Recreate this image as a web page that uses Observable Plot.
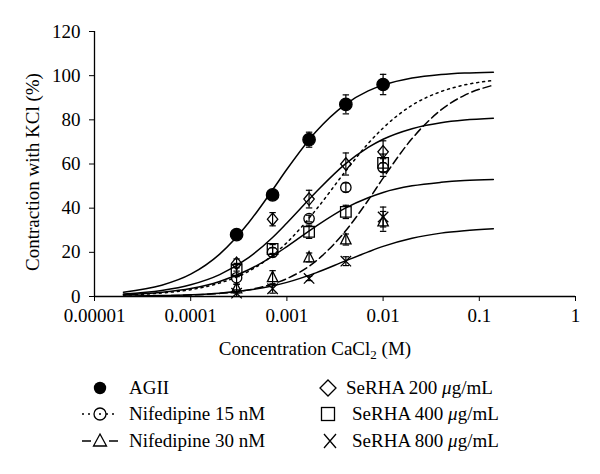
<!DOCTYPE html>
<html><head><meta charset="utf-8">
<script src="https://cdn.jsdelivr.net/npm/d3@7"></script>
<script src="https://cdn.jsdelivr.net/npm/@observablehq/plot@0.6"></script>
<style>
body{margin:0;background:#fff}
#wrap{position:relative;width:600px;height:474px;font-family:"Liberation Serif","Times New Roman",serif;color:#000}
#wrap svg.plot{position:absolute;left:0;top:0}
.t{position:absolute;white-space:nowrap;font-size:19px;line-height:1}
.leg{position:absolute;white-space:nowrap;font-size:19px;height:24px;line-height:24px}
.mk{position:absolute}
</style></head><body><div id="wrap"></div>
<script>
// ---------- data ----------
const xTicks = [0.00001, 0.0001, 0.001, 0.01, 0.1, 1];
const xTickLabels = ["0.00001", "0.0001", "0.001", "0.01", "0.1", "1"];
const yTicks = [0, 20, 40, 60, 80, 100, 120];

const seriesNames = ["AGII", "Nifedipine 15 nM", "Nifedipine 30 nM", "SeRHA 200 μg/mL", "SeRHA 400 μg/mL", "SeRHA 800 μg/mL"];

// fitted curves
const curveX = [0.00002, 0.00005, 0.0001, 0.0002, 0.0004, 0.0007, 0.001, 0.002, 0.004, 0.007, 0.01, 0.02, 0.04, 0.07, 0.14];
const curveAGII   = [1.97, 5.1, 10.1, 19.2, 33.4, 47.9, 57.6, 74.6, 86.8, 93.1, 95.7, 98.9, 100.5, 101.2, 101.6];
const curveNif15  = [0.64, 1.6, 3.1, 6.1, 11.4, 18.4, 24.4, 39.2, 56.3, 69.3, 76.3, 86.6, 92.8, 95.8, 97.8];
const curveNif30  = [0.11, 0.31, 0.66, 1.4, 3.0, 5.6, 8.1, 16.0, 29.3, 43.6, 53.6, 71.5, 84.5, 91.1, 95.7];
const curveSe200  = [1.1, 2.7, 5.3, 9.9, 17.6, 26.5, 33.3, 47.2, 59.8, 67.5, 71.2, 76.0, 78.7, 79.9, 80.7];
const curveSe400  = [0.77, 1.9, 3.6, 6.8, 12.1, 18.1, 22.6, 31.8, 39.9, 44.7, 47.1, 50.1, 51.7, 52.5, 53.0];
const curveSe800  = [0.16, 0.40, 0.79, 1.5, 2.9, 4.8, 6.4, 10.7, 16.0, 20.2, 22.7, 26.4, 28.7, 29.8, 30.7];

// measured points (mean, error)
const pointX = [0.0003, 0.00071, 0.0017, 0.0041, 0.01];
const agiiY  = [28, 46, 71, 87, 96];     const agiiErr  = [1, 1, 3.4, 4.3, 4.6];
const nif15Y = [8.5, 20, 35.3, 49.4, 58.4]; const nif15Err = [3, 2, 1.5, 2, 4];
const nif30Y = [3.6, 8.7, 17.7, 25.8, 34]; const nif30Err = [2, 3, 2, 2.5, 4.5];
const se200Y = [15, 35, 44.1, 60, 65.5]; const se200Err = [2, 3, 4, 5, 5];
const se400Y = [12, 21.5, 29.3, 38.3, 60.5]; const se400Err = [3, 2, 3, 3, 4];
const se800Y = [1.5, 3.5, 8.2, 16, 36];  const se800Err = [1.5, 2, 1, 2, 4.5];

// ---------- symbols ----------
const rad = s => Math.sqrt(s / Math.PI);
const symDiamond = {draw(c, s){const r = rad(s); c.moveTo(0, -r*1.2); c.lineTo(r, 0); c.lineTo(0, r*1.2); c.lineTo(-r, 0); c.closePath();}};
const symSquare = {draw(c, s){const r = rad(s); c.rect(-r, -r, 2*r, 2*r);}};
const symTriangle = {draw(c, s){const r = rad(s); c.moveTo(0, -r*1.15); c.lineTo(r, r*0.85); c.lineTo(-r, r*0.85); c.closePath();}};
const symTimes = {draw(c, s){const r = rad(s); c.moveTo(-r, -r); c.lineTo(r, r); c.moveTo(r, -r); c.lineTo(-r, r);}};
const symCap = {draw(c, s){const r = rad(s); c.moveTo(-r, 0); c.lineTo(r, 0);}};

const curveSets = [curveAGII, curveNif15, curveNif30, curveSe200, curveSe400, curveSe800];
const dashes = [null, "2,4", "8,4", null, null, null];
const ySets = [agiiY, nif15Y, nif30Y, se200Y, se400Y, se800Y];
const eSets = [agiiErr, nif15Err, nif30Err, se200Err, se400Err, se800Err];
const symbols = ["circle", "circle", symTriangle, symDiamond, symSquare, symTimes];
const radii = [6.2, 5.2, 5.2, 5.2, 5.3, 5.2];
const fills = ["black", "none", "none", "none", "none", "none"];

const curveData = curveSets.map(arr => curveX.map((x, i) => ({x, y: arr[i]})));
const pointData = ySets.map((ys, k) => pointX.map((x, i) => ({x, y: ys[i], err: eSets[k][i]})));
const allPoints = pointData.flat();

const marks = [];
curveData.forEach((cd, k) => {
  marks.push(Plot.line(cd, {x: "x", y: "y", curve: "monotone-x", stroke: "black", strokeWidth: 1.5, strokeDasharray: dashes[k] || undefined}));
});
marks.push(Plot.ruleX(allPoints, {x: "x", y1: d => Math.max(0, d.y - d.err), y2: d => d.y + d.err, stroke: "black", strokeWidth: 1.2}));
marks.push(Plot.dot(allPoints, {x: "x", y: d => d.y + d.err, symbol: symCap, r: 3.2, stroke: "black", strokeWidth: 1.2}));
marks.push(Plot.dot(allPoints, {x: "x", y: d => Math.max(0, d.y - d.err), symbol: symCap, r: 3.2, stroke: "black", strokeWidth: 1.2}));
pointData.forEach((pd, k) => {
  marks.push(Plot.dot(pd, {x: "x", y: "y", symbol: symbols[k], r: radii[k], fill: fills[k], stroke: "black", strokeWidth: 1.3}));
});
marks.push(Plot.ruleY([0], {stroke: "black", strokeWidth: 1.3}));
marks.push(Plot.ruleX([xTicks[0]], {stroke: "black", strokeWidth: 1.3}));
marks.push(Plot.axisX({ticks: xTicks, tickFormat: d => xTickLabels[xTicks.indexOf(d)], tickSize: 5, tickPadding: 7, label: null}));
marks.push(Plot.axisY({ticks: yTicks, tickSize: 5, tickPadding: 9, label: null}));

const svg = Plot.plot({
  width: 600, height: 474,
  marginLeft: 94, marginRight: 25, marginTop: 31, marginBottom: 178,
  x: {type: "log", domain: [xTicks[0], xTicks[xTicks.length - 1]]},
  y: {domain: [0, 120]},
  style: {fontFamily: '"Liberation Serif","Times New Roman",serif', fontSize: "19px", color: "black", background: "white"},
  marks
});
svg.classList.add("plot");
const wrap = document.getElementById("wrap");
wrap.appendChild(svg);

// titles
const yt = document.createElement("div");
yt.className = "t";
yt.style.left = "32px"; yt.style.top = "172px";
yt.style.transform = "translate(-50%,-50%) rotate(-90deg)";
yt.textContent = "Contraction with KCl (%)";
wrap.appendChild(yt);
const xt = document.createElement("div");
xt.className = "t";
xt.style.left = "315px"; xt.style.top = "348px";
xt.style.transform = "translate(-50%,-50%)";
xt.innerHTML = "Concentration CaCl<sub style='font-size:13px;vertical-align:-4px;line-height:0'>2</sub> (M)";
wrap.appendChild(xt);

// legend
const legRows = [388, 414, 441];
const legendMarkers = [
  '<circle cx="20" cy="12" r="6.2" fill="black"/>',
  '<line x1="2" x2="38" y1="12" y2="12" stroke="black" stroke-width="1.5" stroke-dasharray="2,4"/><circle cx="20" cy="12" r="6" fill="white" stroke="black" stroke-width="1.3"/><circle cx="20" cy="12" r="1" fill="black"/>',
  '<line x1="2" x2="11" y1="12" y2="12" stroke="black" stroke-width="1.5"/><line x1="29" x2="38" y1="12" y2="12" stroke="black" stroke-width="1.5"/><path d="M20,5 L26.5,17 L13.5,17 Z" fill="none" stroke="black" stroke-width="1.3"/>',
  '<path d="M20,4 L28,12 L20,20 L12,12 Z" fill="none" stroke="black" stroke-width="1.3"/>',
  '<rect x="13.5" y="5.5" width="13" height="13" fill="none" stroke="black" stroke-width="1.3"/>',
  '<path d="M14,5 L26,19 M26,5 L14,19" fill="none" stroke="black" stroke-width="1.3"/>'
];
const legMarkX = [100, 100, 100, 328, 328, 330];
const legTextX = [129, 129, 129, 346, 352, 352];
seriesNames.forEach((name, k) => {
  const row = legRows[k % 3];
  const m = document.createElement("div");
  m.className = "mk";
  m.style.left = (legMarkX[k] - 20) + "px"; m.style.top = (row - 12) + "px";
  m.innerHTML = '<svg width="40" height="24">' + legendMarkers[k] + '</svg>';
  wrap.appendChild(m);
  const t = document.createElement("div");
  t.className = "leg";
  t.style.left = legTextX[k] + "px"; t.style.top = (row - 12) + "px";
  t.innerHTML = name.replace("μ", "<i>μ</i>");
  wrap.appendChild(t);
});
</script></body></html>
